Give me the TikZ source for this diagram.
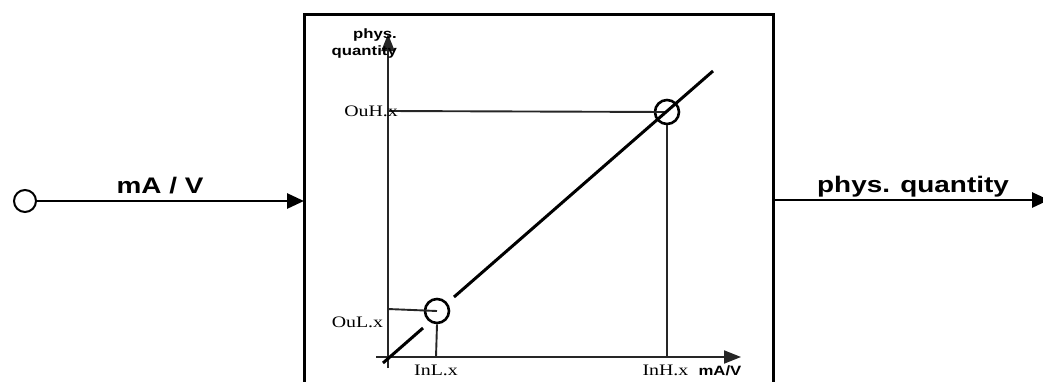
\documentclass[tikz,border=0pt]{standalone}
\usepackage{fontspec}
\newfontfamily\wsans[FakeStretch=1.24]{Liberation Sans}
\newfontfamily\wserif[FakeStretch=1.24]{Liberation Serif}
\usetikzlibrary{arrows.meta}
\begin{document}
\begin{tikzpicture}[x=1pt,y=-1pt,
  bigtxt/.style={font=\wsans\bfseries\fontsize{22.5}{26}\selectfont,inner sep=0pt},
  smalltxt/.style={font=\wsans\bfseries\fontsize{13.5}{17}\selectfont,inner sep=0pt},
  sertxt/.style={font=\wserif\fontsize{16}{19}\selectfont,inner sep=0pt},
  frame/.style={line width=3pt,black},
  flow/.style={line width=2.8pt,black,-{Triangle[length=17pt,width=15pt]}},
  axis/.style={line width=2pt,black!85,-{Triangle[length=17pt,width=13pt]}},
  guide/.style={line width=1.9pt,black!85},
  diag/.style={line width=3pt,black},
  ring/.style={circle,draw,line width=2.6pt,minimum size=24pt,inner sep=0pt},
  port/.style={circle,draw,line width=2pt,minimum size=22pt,inner sep=0pt,fill=white}]
\useasboundingbox (0,0) rectangle (1043,381);
% block frame
\coordinate (bl) at (304,382);
\coordinate (tl) at (304,14);
\coordinate (tr) at (773,14);
\coordinate (br) at (773,382);
\draw[frame] (bl) -- (tl) -- (tr) -- (br);
% input
\node[port] (in) at (25,201) {};
\coordinate (inend) at (304,201);
\draw[flow] (in.east) -- (inend);
\node[bigtxt,anchor=base] (inlab) at (160,193) {mA / V};
% output
\coordinate (outstart) at (773,200);
\coordinate (outend) at (1049,200);
\draw[flow] (outstart) -- (outend);
\node[bigtxt,anchor=base] (outlab) at (913,192) {phys. quantity};
% axes
\coordinate (ybot) at (388,368);
\coordinate (ytop) at (388,34);
\coordinate (xleft) at (376,357);
\coordinate (xright) at (741,357);
\draw[axis] (ybot) -- (ytop);
\draw[axis] (xleft) -- (xright);
% rings
\node[ring] (lo) at (437,311) {};
\node[ring] (hi) at (667,112) {};
% guide lines
\coordinate (yhi) at (388,111);
\coordinate (ylo) at (388,309);
\coordinate (xhi) at (667,357);
\coordinate (xlo) at (436,357);
\draw[guide] (yhi) -- (hi.center);
\draw[guide] (hi.south) -- (xhi);
\draw[guide] (ylo) -- (lo.center);
\draw[guide] (lo.south) -- (xlo);
% diagonal with gap
\coordinate (d0) at (383,363);
\coordinate (d1) at (423,328);
\coordinate (d2) at (454,297);
\coordinate (d3) at (713,71);
\draw[diag] (d0) -- (d1);
\draw[diag] (d2) -- (d3);
% labels
\node[smalltxt,align=right,anchor=north east] (ylab) at (397,29) {phys.\\quantity};
\node[smalltxt,anchor=base] (xlab) at (720,375) {mA/V};
\node[sertxt,anchor=base] (ouh) at (371,116) {OuH.x};
\node[sertxt,anchor=base] (oul) at (357.5,327) {OuL.x};
\node[sertxt,anchor=base] (inl) at (436,375) {InL.x};
\node[sertxt,anchor=base] (inh) at (665.5,375) {InH.x};
\end{tikzpicture}
\end{document}
